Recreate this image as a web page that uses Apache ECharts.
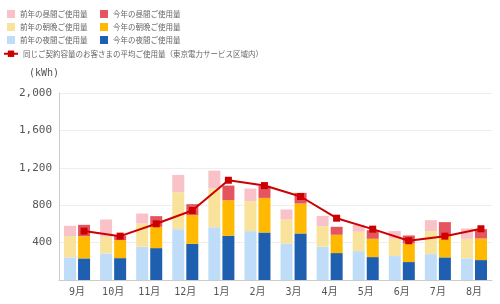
<!DOCTYPE html>
<html><head><meta charset="utf-8">
<script src="https://cdn.jsdelivr.net/npm/echarts@6/dist/echarts.min.js"></script>
<style>html,body{margin:0;padding:0;background:#fff}#c{width:500px;height:304px}</style>
</head><body><div id="c"></div>
<script>
const months = ['9月','10月','11月','12月','1月','2月','3月','4月','5月','6月','7月','8月'];
const prevNight = [242,284,356,544,565,523,391,356,309,256,277,231];
const prevMorn  = [227,178,248,395,413,320,256,220,207,188,246,210];
const prevDay   = [111,185,107,185,192,135,107,110,74,79,117,110];
const thisNight = [231,234,341,388,473,508,498,288,245,192,242,213];
const thisMorn  = [238,193,228,305,380,370,320,196,196,199,227,231];
const thisDay   = [121,49,114,118,157,130,114,85,92,85,150,100];
const avgUse    = [523,469,601,743,1067,1010,893,661,544,420,469,548];
const yTicks = {min:0, max:2000, interval:400};
const names = {
  pd:'前年の昼間ご使用量', td:'今年の昼間ご使用量',
  pm:'前年の朝晩ご使用量', tm:'今年の朝晩ご使用量',
  pn:'前年の夜間ご使用量', tn:'今年の夜間ご使用量',
  avg:'同じご契約容量のお客さまの平均ご使用量（東京電力サービス区域内）'
};
const colors = {pd:'#F9C1C8', td:'#E4555F', pm:'#F9E39B', tm:'#FFB900', pn:'#BFDDF8', tn:'#1F5FAF', avg:'#CC0000'};

const chart = echarts.init(document.getElementById('c'), null, {renderer:'canvas'});
const legText = {fontSize:7.5, color:'#666', fontFamily:'"Noto Sans CJK JP", sans-serif'};
const legBase = {orient:'vertical', itemWidth:8, itemHeight:8, itemGap:5, textStyle:legText, icon:'rect', selectedMode:false, padding:0};
function bar(key, stack, data){
  return {name:names[key], type:'bar', stack:stack, data:data, barWidth:12, barGap:'17%',
    itemStyle:{color:colors[key]}, xAxisIndex:0, yAxisIndex:0, emphasis:{disabled:true}};
}
chart.setOption({
  animation:false,
  legend:[
    Object.assign({}, legBase, {left:7, top:10, data:[names.pd, names.pm, names.pn]}),
    Object.assign({}, legBase, {left:100, top:10, data:[names.td, names.tm, names.tn]}),
    {left:3, top:50, itemWidth:14, itemHeight:8, textStyle:legText, selectedMode:false, padding:0, data:[names.avg]}
  ],
  grid:[
    {left:59, right:8, top:93, bottom:24},
    {left:66, right:1, top:93, bottom:24}
  ],
  xAxis:[
    {type:'category', data:months, gridIndex:0,
     axisLine:{lineStyle:{color:'#cccccc'}}, axisTick:{show:false},
     axisLabel:{fontSize:10, color:'#555', margin:7, fontFamily:'"DejaVu Sans Mono", "Noto Sans CJK JP", monospace'}},
    {type:'category', data:months, gridIndex:1, show:false}
  ],
  yAxis:[
    {type:'value', gridIndex:0, min:yTicks.min, max:yTicks.max, interval:yTicks.interval,
     name:'(kWh)', nameLocation:'end', nameGap:15,
     nameTextStyle:{align:'right', fontSize:10, color:'#555', fontFamily:'"DejaVu Sans Mono", monospace', padding:[0,0,0,0]},
     axisLine:{show:true, lineStyle:{color:'#cccccc'}}, axisTick:{show:false},
     splitLine:{lineStyle:{color:'#eeeeee'}},
     axisLabel:{fontSize:11, color:'#555', margin:7, fontFamily:'"DejaVu Sans Mono", monospace',
       formatter:v => v===0 ? '' : v.toLocaleString('en-US')}},
    {type:'value', gridIndex:1, min:yTicks.min, max:yTicks.max, interval:yTicks.interval, show:false}
  ],
  series:[
    bar('pn','prev',prevNight), bar('pm','prev',prevMorn), bar('pd','prev',prevDay),
    bar('tn','this',thisNight), bar('tm','this',thisMorn), bar('td','this',thisDay),
    {name:names.avg, type:'line', data:avgUse, xAxisIndex:1, yAxisIndex:1,
     symbol:'rect', symbolSize:7, lineStyle:{color:colors.avg, width:2}, itemStyle:{color:colors.avg},
     emphasis:{disabled:true}, z:5}
  ]
});
</script></body></html>
